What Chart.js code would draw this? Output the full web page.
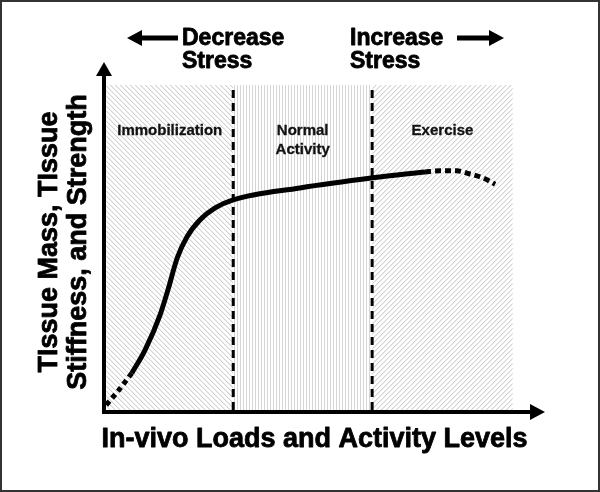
<!DOCTYPE html>
<html>
<head>
<meta charset="utf-8">
<script src="https://cdn.jsdelivr.net/npm/chart.js@4/dist/chart.umd.min.js"></script>
<style>
    html, body { margin: 0; padding: 0; background: #fff; }
    canvas { display: block; }
</style>
</head>
<body>
<canvas id="chartStress" width="600" height="492"></canvas>
<script>
// Values (x: 0-100 load level, y: 0-100 tissue response)
const curveX     = [6.3, 9.3, 12.7, 14.5, 16.6, 18.8, 21.8, 25.2, 29.3, 44.4, 61.0, 72.8];
const curveY     = [11.1, 17.7, 27.7, 34.9, 44.0, 50.0, 54.9, 58.3, 60.6, 64.0, 66.9, 68.6];
const lowTailX   = [0.5, 3.2, 6.3];
const lowTailY   = [2.0, 6.0, 11.1];
const highTailX  = [72.8, 76.2, 80.0, 83.0, 85.9, 88.7];
const highTailY  = [68.6, 68.9, 68.9, 68.0, 66.9, 65.1];
const zoneEdges  = [0.5, 29.3, 60.8, 92.7];
const zoneTop    = 93.4;
const zoneNames  = [['Immobilization'], ['Normal', 'Activity'], ['Exercise']];
const stressText = [['Decrease', 'Stress'], ['Increase', 'Stress']];
const xTitle     = 'In-vivo Loads and Activity Levels';
const yTitle     = ['TIssue Mass, TIssue', 'Stiffness, and Strength'];

const FONT = 'Arial, "Liberation Sans", sans-serif';

function toPoints(xs, ys) {
    return xs.map((x, i) => ({ x: x, y: ys[i] }));
}

// Hatch fills for the three zones
function makePattern(kind) {
    const size = kind === 'vertical' ? 3 : 5;
    const c = document.createElement('canvas');
    c.width = size;
    c.height = size;
    const g = c.getContext('2d');
    g.fillStyle = '#fff';
    g.fillRect(0, 0, size, size);
    for (let y = 0; y < size; y++) {
        for (let x = 0; x < size; x++) {
            let d;
            if (kind === 'vertical') d = x % size;
            else if (kind === 'back') d = ((x - y) % size + size) % size;
            else d = ((x + y) % size + size) % size;
            if (d === 0) { g.fillStyle = kind === 'vertical' ? '#d6d6d6' : '#d2d2d2'; g.fillRect(x, y, 1, 1); }
            else if (d === 1 && kind !== 'vertical') { g.fillStyle = '#eeeeee'; g.fillRect(x, y, 1, 1); }
        }
    }
    return g.createPattern(c, 'repeat');
}

const zonePatterns = [makePattern('back'), makePattern('vertical'), makePattern('forward')];

function zoneDataset(i) {
    return {
        data: [{ x: zoneEdges[i], y: zoneTop }, { x: zoneEdges[i + 1], y: zoneTop }],
        fill: 'origin',
        backgroundColor: zonePatterns[i],
        borderWidth: 0,
        pointRadius: 0,
        order: 3,
    };
}

function dividerDataset(x) {
    return {
        data: [{ x: x, y: 0.6 }, { x: x, y: zoneTop }],
        borderColor: '#000',
        borderWidth: 3,
        borderDash: [8, 5],
        pointRadius: 0,
        fill: false,
        order: 2,
    };
}

function arrow(ctx, x1, y1, x2, y2, shaft, headLen, headHalf) {
    const ang = Math.atan2(y2 - y1, x2 - x1);
    const bx = x2 - Math.cos(ang) * headLen;
    const by = y2 - Math.sin(ang) * headLen;
    ctx.save();
    ctx.strokeStyle = '#000';
    ctx.fillStyle = '#000';
    ctx.lineWidth = shaft;
    ctx.lineCap = 'butt';
    ctx.beginPath();
    ctx.moveTo(x1, y1);
    ctx.lineTo(bx + Math.cos(ang), by + Math.sin(ang));
    ctx.stroke();
    ctx.beginPath();
    ctx.moveTo(x2, y2);
    ctx.lineTo(bx - Math.sin(ang) * headHalf, by + Math.cos(ang) * headHalf);
    ctx.lineTo(bx + Math.sin(ang) * headHalf, by - Math.cos(ang) * headHalf);
    ctx.closePath();
    ctx.fill();
    ctx.restore();
}

// bold text with a thin outline so it reads as heavy as the original
function heavyText(ctx, t, x, y, w) {
    ctx.lineWidth = w;
    ctx.strokeText(t, x, y);
    ctx.fillText(t, x, y);
}

const decorPlugin = {
    id: 'decor',
    afterDraw(chart) {
        const ctx = chart.ctx;
        const area = chart.chartArea;
        const xs = chart.scales.x;
        const ys = chart.scales.y;

        ctx.save();
        ctx.lineJoin = 'round';

        // zone labels
        ctx.fillStyle = '#111';
        ctx.strokeStyle = '#111';
        ctx.font = 'bold 15px ' + FONT;
        ctx.textAlign = 'center';
        ctx.textBaseline = 'alphabetic';
        zoneNames.forEach((lines, i) => {
            const cx = (xs.getPixelForValue(zoneEdges[i]) + xs.getPixelForValue(zoneEdges[i + 1])) / 2;
            const base = ys.getPixelForValue(79.2);
            lines.forEach((t, j) => heavyText(ctx, t, cx, base + j * 19, 0.3));
        });

        // axes with arrow heads
        arrow(ctx, area.left, area.bottom + 2, area.left, area.top, 4, 14, 8);
        arrow(ctx, area.left - 2, area.bottom, area.right, area.bottom, 4, 15, 8);

        // stress direction labels
        ctx.fillStyle = '#000';
        ctx.strokeStyle = '#000';
        ctx.font = 'bold 23px ' + FONT;
        ctx.textAlign = 'left';
        stressText[0].forEach((t, j) => heavyText(ctx, t, 182, 45 + j * 23, 0.8));
        stressText[1].forEach((t, j) => heavyText(ctx, t, 350, 45 + j * 23, 0.8));
        arrow(ctx, 178, 38, 127, 38, 5, 15, 8);
        arrow(ctx, 457, 38, 504, 38, 5, 15, 8);

        // axis titles
        ctx.font = 'bold 27px ' + FONT;
        ctx.textAlign = 'center';
        heavyText(ctx, xTitle, (area.left + area.right) / 2 - 10, 447, 0.8);

        ctx.translate(0, 242);
        ctx.rotate(-Math.PI / 2);
        yTitle.forEach((t, j) => heavyText(ctx, t, 0, 57 + j * 29, 0.8));
        ctx.restore();

        // frame
        ctx.save();
        ctx.strokeStyle = '#333';
        ctx.lineWidth = 2;
        ctx.strokeRect(1, 1, chart.width - 2, chart.height - 2);
        ctx.restore();
    },
};

const canvas = document.getElementById('chartStress');

new Chart(canvas, {
    type: 'line',
    data: {
        datasets: [
            {
                data: toPoints(curveX, curveY),
                borderColor: '#000',
                borderWidth: 5,
                cubicInterpolationMode: 'monotone',
                pointRadius: 0,
                fill: false,
                order: 1,
            },
            {
                data: toPoints(lowTailX, lowTailY),
                borderColor: '#000',
                borderWidth: 5,
                borderDash: [5, 4],
                borderCapStyle: 'butt',
                cubicInterpolationMode: 'monotone',
                pointRadius: 0,
                fill: false,
                order: 1,
            },
            {
                data: toPoints(highTailX, highTailY),
                borderColor: '#000',
                borderWidth: 5,
                borderDash: [6, 4],
                borderCapStyle: 'butt',
                cubicInterpolationMode: 'monotone',
                pointRadius: 0,
                fill: false,
                order: 1,
            },
            dividerDataset(zoneEdges[1]),
            dividerDataset(zoneEdges[2]),
            zoneDataset(0),
            zoneDataset(1),
            zoneDataset(2),
        ],
    },
    options: {
        responsive: false,
        animation: false,
        devicePixelRatio: 1,
        layout: {
            padding: { left: 104, right: 55, top: 62, bottom: 80 },
        },
        scales: {
            x: { type: 'linear', min: 0, max: 100, display: false },
            y: { type: 'linear', min: 0, max: 100, display: false },
        },
        plugins: {
            legend: { display: false },
            tooltip: { enabled: false },
        },
    },
    plugins: [decorPlugin],
});
</script>
</body>
</html>
